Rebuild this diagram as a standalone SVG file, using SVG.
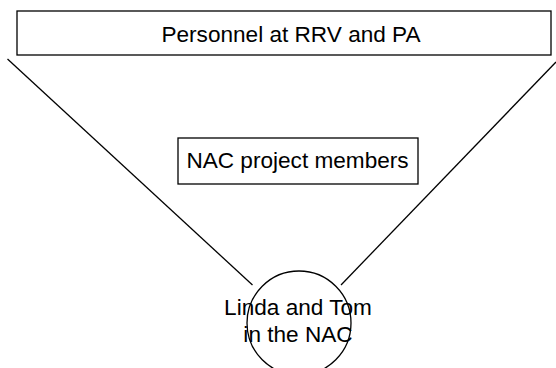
<svg xmlns="http://www.w3.org/2000/svg" width="556" height="368" viewBox="0 0 556 368">
<style>
.box{fill:#fff;stroke:#000;stroke-width:1.3}
.lbl{font-family:"Liberation Sans",Arial,sans-serif;font-size:22.6px;fill:#000;text-anchor:middle}
.conn{stroke:#000;stroke-width:1.3;fill:none}
</style>
<rect width="556" height="368" fill="#fff"/>
<g id="connectors">
<line class="conn" x1="7.5" y1="59" x2="252.5" y2="285"/>
<line class="conn" x1="556" y1="62" x2="341" y2="285"/>
</g>
<g id="personnel">
<rect class="box" x="17" y="11" width="534" height="44"/>
<text class="lbl" x="291" y="42">Personnel at RRV and PA</text>
</g>
<g id="nac-members">
<rect class="box" x="178" y="138" width="240" height="46"/>
<text class="lbl" x="297.5" y="168">NAC project members</text>
</g>
<g id="linda-tom">
<circle cx="299" cy="323" r="52" fill="none" stroke="#000" stroke-width="1.3"/>
<text class="lbl" x="298" y="315">Linda and Tom</text>
<text class="lbl" x="298" y="342">in the NAC</text>
</g>
</svg>
